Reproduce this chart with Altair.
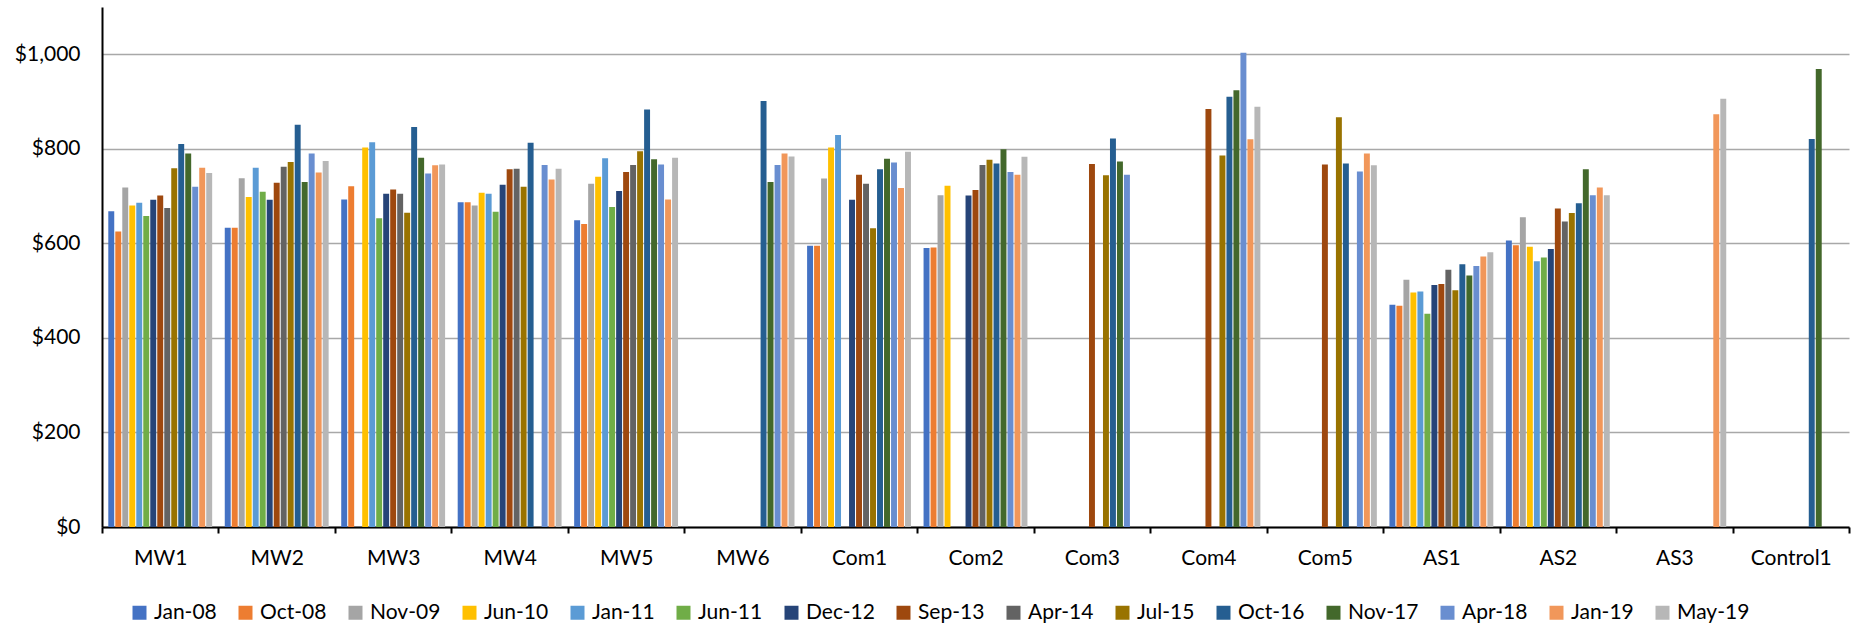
import altair as alt
import pandas as pd

# Sampling sites (x categories) and sampling events (series)
sites = ["MW1", "MW2", "MW3", "MW4", "MW5", "MW6", "Com1", "Com2",
         "Com3", "Com4", "Com5", "AS1", "AS2", "AS3", "Control1"]
dates = ["Jan-08", "Oct-08", "Nov-09", "Jun-10", "Jan-11", "Jun-11", "Dec-12",
         "Sep-13", "Apr-14", "Jul-15", "Oct-16", "Nov-17", "Apr-18", "Jan-19", "May-19"]
colors = ["#4472C4", "#ED7D31", "#A5A5A5", "#FFC000", "#5B9BD5", "#70AD47", "#264478",
          "#9E480E", "#636363", "#997300", "#255E91", "#43682B", "#698ED0", "#F1975A", "#B7B7B7"]

# Values per site, one per sampling event (None = not sampled)
mw1 = [668, 625, 718, 680, 686, 658, 692, 701, 675, 759, 810, 790, 720, 760, 749]
mw2 = [633, 633, 738, 698, 760, 709, 692, 728, 762, 772, 851, 730, 790, 750, 774]
mw3 = [693, 721, None, 803, 814, 653, 705, 714, 705, 665, 846, 781, 748, 765, 767]
mw4 = [687, 687, 680, 707, 705, 667, 724, 757, 758, 720, 813, None, 766, 735, 758]
mw5 = [649, 641, 726, 741, 780, 677, 711, 751, 766, 795, 883, 778, 767, 693, 781]
mw6 = [None, None, None, None, None, None, None, None, None, None, 901, 730, 766, 790, 784]
com1 = [595, 595, 737, 803, 829, None, 692, 745, 726, 632, 757, 779, 771, 717, 794]
com2 = [590, 591, 702, 722, None, None, 701, 713, 766, 777, 769, 799, 751, 745, 783]
com3 = [None, None, None, None, None, None, None, 768, None, 744, 822, 773, 745, None, None]
com4 = [None, None, None, None, None, None, None, 884, None, 786, 910, 924, 1003, 820, 889]
com5 = [None, None, None, None, None, None, None, 767, None, 867, 769, None, 752, 790, 765]
as1 = [470, 468, 523, 496, 498, 451, 512, 514, 544, 501, 556, 532, 552, 572, 581]
as2 = [606, 596, 655, 593, 562, 570, 588, 674, 646, 664, 685, 757, 702, 718, 702]
as3 = [None, None, None, None, None, None, None, None, None, None, None, None, None, 873, 906]
control1 = [None, None, None, None, None, None, None, None, None, None, 821, 969, None, None, None]

y_ticks = [0, 200, 400, 600, 800, 1000]

site_values = [mw1, mw2, mw3, mw4, mw5, mw6, com1, com2, com3, com4, com5,
               as1, as2, as3, control1]

rows = []
for site, vals in zip(sites, site_values):
    for d, v in zip(dates, vals):
        if v is not None:
            rows.append({"site": site, "date": d, "value": v})
df = pd.DataFrame(rows)

FONT = "Lato"

chart = alt.Chart(df).mark_bar().encode(
    x=alt.X(
        "site:N",
        sort=sites,
        scale=alt.Scale(domain=sites, paddingInner=0, paddingOuter=0),
        axis=alt.Axis(
            title=None, labelAngle=0, tickBand="extent", tickSize=6,
            tickColor="black", tickWidth=2, domainColor="black", domainWidth=2,
            labelFont=FONT, labelFontSize=21, labelColor="black",
            labelPadding=14, grid=False,
        ),
    ),
    xOffset=alt.XOffset(
        "date:N",
        sort=dates,
        scale=alt.Scale(domain=dates, paddingInner=0.15, paddingOuter=0.9),
    ),
    y=alt.Y(
        "value:Q",
        scale=alt.Scale(domain=[0, 1100], nice=False),
        axis=alt.Axis(
            title=None, values=y_ticks, format="$,.0f", ticks=False,
            domainColor="black", domainWidth=2, gridColor="#A8A8A8", gridWidth=1.6,
            labelFont=FONT, labelFontSize=21, labelColor="black", labelPadding=22,
        ),
    ),
    color=alt.Color(
        "date:N",
        sort=dates,
        scale=alt.Scale(domain=dates, range=colors),
        legend=alt.Legend(
            title=None, orient="none", direction="horizontal", columns=15,
            legendX=27, legendY=595, padding=0,
            symbolType="square", symbolSize=196, symbolStrokeWidth=0,
            labelFont=FONT, labelFontSize=21, labelColor="black",
            labelOffset=4, columnPadding=18,
        ),
    ),
).properties(
    width=1747,
    height=520,
    autosize="none",
    padding={"left": 102, "top": 7, "right": 9, "bottom": 99},
).configure_view(stroke=None)

chart.save("out.html", embed_options={"renderer": "svg", "actions": False})
